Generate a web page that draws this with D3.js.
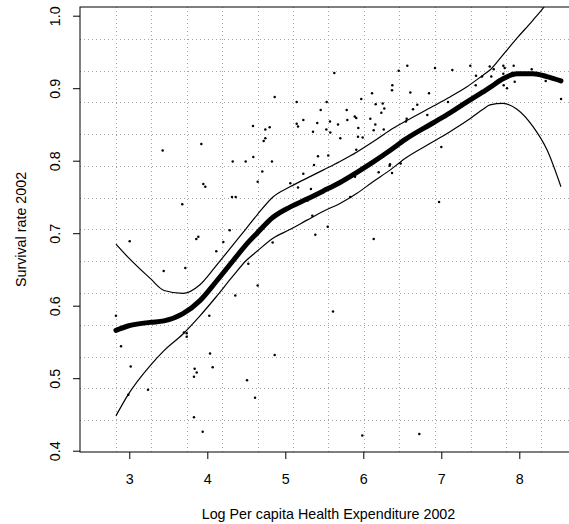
<!DOCTYPE html>
<html>
<head>
<meta charset="utf-8">
<script src="https://cdn.jsdelivr.net/npm/d3@7"></script>
<style>
  body { margin: 0; background: #fff; }
  svg { display: block; font-family: "Liberation Sans", Arial, Helvetica, sans-serif; }
</style>
</head>
<body>
<svg id="chart" width="569" height="524"></svg>
<script>
// Country observations: log per-capita health expenditure vs survival rate (2002)
const logExpenditure = [
  3.428, 3.923, 4.326, 4.492, 4.590, 4.646, 3.949, 3.974, 4.317, 4.364,
  3.679, 4.287, 3.005, 3.885, 3.859, 4.205, 4.115, 3.441, 3.718, 4.249,
  4.359, 2.829, 4.026, 3.701, 3.736, 3.736, 2.894, 4.035, 3.018, 4.069,
  3.838, 3.864, 3.829, 3.240, 2.987, 3.829, 3.941, 4.526, 4.646, 5.612,
  4.864, 4.509, 4.612, 5.987, 6.718, 5.628, 6.454, 6.372, 6.368, 6.112,
  4.864, 5.146, 5.531, 5.974, 6.159, 6.249, 6.269, 6.231, 5.454, 5.787,
  5.890, 5.910, 6.090, 5.795, 5.231, 5.573, 5.410, 5.146, 5.163, 5.676,
  6.154, 4.586, 4.800, 4.744, 5.936, 6.133, 6.262, 5.526, 5.355, 5.577,
  4.744, 4.723, 5.705, 5.932, 5.992, 5.910, 5.419, 5.551, 4.829, 5.368,
  6.342, 6.338, 6.479, 4.705, 5.231, 6.197, 6.368, 5.894, 5.064, 5.163,
  5.329, 5.833, 5.287, 5.346, 5.544, 5.385, 6.133, 4.838, 6.564, 6.919,
  7.141, 7.372, 7.621, 7.672, 7.795, 7.813, 7.928, 8.159, 7.795, 7.906,
  7.445, 7.522, 7.641, 7.800, 7.842, 7.941, 8.338, 7.441, 6.603, 6.842,
  7.086, 6.692, 6.637, 6.821, 6.556, 6.547, 8.535, 7.000, 6.971
];
const survivalRate = [
  0.814, 0.823, 0.799, 0.799, 0.805, 0.771, 0.768, 0.764, 0.750, 0.750,
  0.740, 0.704, 0.689, 0.695, 0.692, 0.688, 0.675, 0.648, 0.652, 0.649,
  0.614, 0.586, 0.586, 0.563, 0.562, 0.557, 0.544, 0.534, 0.516, 0.515,
  0.513, 0.508, 0.502, 0.484, 0.477, 0.446, 0.426, 0.658, 0.628, 0.592,
  0.532, 0.497, 0.473, 0.421, 0.423, 0.921, 0.924, 0.904, 0.897, 0.893,
  0.888, 0.881, 0.881, 0.885, 0.878, 0.879, 0.872, 0.866, 0.870, 0.870,
  0.861, 0.859, 0.858, 0.856, 0.856, 0.854, 0.852, 0.851, 0.847, 0.850,
  0.850, 0.848, 0.846, 0.843, 0.845, 0.842, 0.843, 0.843, 0.840, 0.839,
  0.831, 0.827, 0.831, 0.833, 0.832, 0.815, 0.806, 0.807, 0.799, 0.794,
  0.795, 0.793, 0.796, 0.785, 0.782, 0.784, 0.783, 0.778, 0.769, 0.763,
  0.761, 0.750, 0.745, 0.724, 0.709, 0.698, 0.692, 0.687, 0.931, 0.928,
  0.925, 0.931, 0.930, 0.926, 0.931, 0.928, 0.931, 0.926, 0.920, 0.921,
  0.917, 0.916, 0.916, 0.904, 0.900, 0.909, 0.910, 0.904, 0.894, 0.893,
  0.881, 0.877, 0.871, 0.863, 0.858, 0.854, 0.885, 0.819, 0.743
];

// Smoothed fit with its upper and lower bands, evaluated along the x axis
const curveX = [
  2.829, 2.983, 3.265, 3.445, 3.688, 3.906, 4.112, 4.330, 4.496, 4.637,
  4.842, 5.060, 5.278, 5.483, 5.701, 5.919, 6.124, 6.342, 6.534, 6.893,
  7.111, 7.329, 7.535, 7.624, 7.791, 7.970, 8.176, 8.355, 8.534
];
const fitY = [
  0.566, 0.572, 0.577, 0.579, 0.589, 0.607, 0.633, 0.662, 0.684, 0.700,
  0.722, 0.736, 0.747, 0.758, 0.770, 0.784, 0.798, 0.814, 0.829, 0.852,
  0.866, 0.881, 0.895, 0.901, 0.913, 0.920, 0.920, 0.916, 0.910
];
const upperY = [
  0.685, 0.667, 0.638, 0.621, 0.617, 0.629, 0.655, 0.684, 0.706, 0.725,
  0.750, 0.764, 0.776, 0.787, 0.799, 0.812, 0.826, 0.842, 0.854, 0.875,
  0.888, 0.902, 0.918, 0.925, 0.946, 0.969, 0.994, 1.018, 1.056
];
const lowerY = [
  0.448, 0.477, 0.517, 0.538, 0.561, 0.586, 0.612, 0.641, 0.662, 0.675,
  0.693, 0.705, 0.718, 0.730, 0.741, 0.755, 0.771, 0.787, 0.803, 0.826,
  0.840, 0.855, 0.871, 0.877, 0.879, 0.871, 0.847, 0.815, 0.764
];

const xTicks = [3, 4, 5, 6, 7, 8];
const yTicks = [0.4, 0.5, 0.6, 0.7, 0.8, 0.9, 1.0];
const xTitle = "Log Per capita Health Expenditure 2002";
const yTitle = "Survival rate 2002";
const gridCells = 14;

const svg = d3.select("#chart");
const plot = { left: 80, right: 577, top: 7, bottom: 452 };
const fontSize = "14.3px";

const x = d3.scaleLinear().domain([2.368, 8.7397]).range([plot.left, plot.right]);
const y = d3.scaleLinear().domain([0.3982, 1.0120]).range([plot.bottom, plot.top]);

// Dotted reference grid, equally spaced across the plot region
const gx = d3.range(1, gridCells).map(i => x.domain()[0] + i * (x.domain()[1] - x.domain()[0]) / gridCells);
const gy = d3.range(1, gridCells).map(i => y.domain()[0] + i * (y.domain()[1] - y.domain()[0]) / gridCells);
const grid = svg.append("g").attr("stroke", "#a8a8a8").attr("stroke-width", 1)
  .attr("stroke-dasharray", "1,3").attr("shape-rendering", "crispEdges");
grid.selectAll("line.v").data(gx).join("line").attr("class", "v")
  .attr("x1", d => Math.round(x(d)) + 0.5).attr("x2", d => Math.round(x(d)) + 0.5)
  .attr("y1", plot.top).attr("y2", plot.bottom);
grid.selectAll("line.h").data(gy).join("line").attr("class", "h")
  .attr("y1", d => Math.round(y(d)) + 0.5).attr("y2", d => Math.round(y(d)) + 0.5)
  .attr("x1", plot.left).attr("x2", plot.right);

// Clip marks to the plot region
svg.append("clipPath").attr("id", "plotclip").append("rect")
  .attr("x", plot.left).attr("y", plot.top)
  .attr("width", plot.right - plot.left).attr("height", plot.bottom - plot.top);
const marks = svg.append("g").attr("clip-path", "url(#plotclip)");

// Scatter points
marks.append("g").selectAll("circle").data(logExpenditure).join("circle")
  .attr("cx", (d, i) => x(d)).attr("cy", (d, i) => y(survivalRate[i]))
  .attr("r", 1.25).attr("fill", "#000");

const line = d3.line().curve(d3.curveMonotoneX).x(d => x(d[0])).y(d => y(d[1]));
const pairs = arr => curveX.map((cx, i) => [cx, arr[i]]);

marks.append("path").datum(pairs(upperY)).attr("d", line)
  .attr("fill", "none").attr("stroke", "#000").attr("stroke-width", 1.2);
marks.append("path").datum(pairs(lowerY)).attr("d", line)
  .attr("fill", "none").attr("stroke", "#000").attr("stroke-width", 1.2);
marks.append("path").datum(pairs(fitY)).attr("d", line)
  .attr("fill", "none").attr("stroke", "#000").attr("stroke-width", 5)
  .attr("stroke-linecap", "round").attr("stroke-linejoin", "round");

// Plot frame
svg.append("rect").attr("x", plot.left).attr("y", plot.top)
  .attr("width", plot.right - plot.left).attr("height", plot.bottom - plot.top)
  .attr("fill", "none").attr("stroke", "#000").attr("stroke-width", 1);

// Bottom axis
const xAxis = svg.append("g").attr("transform", `translate(0,${plot.bottom})`)
  .call(d3.axisBottom(x).tickValues(xTicks).tickSize(7).tickPadding(15).tickFormat(d3.format("d")));
xAxis.select(".domain").remove();
xAxis.attr("font-family", null);
xAxis.selectAll("text").attr("font-size", fontSize).attr("fill", "#000");

// Left axis with labels parallel to the axis
const yAxis = svg.append("g").attr("transform", `translate(${plot.left},0)`)
  .call(d3.axisLeft(y).tickValues(yTicks).tickSize(7).tickFormat(d3.format(".1f")));
yAxis.select(".domain").remove();
yAxis.attr("font-family", null);
yAxis.selectAll("text")
  .attr("transform", "rotate(-90)").attr("x", 0).attr("y", -20).attr("dy", 0)
  .attr("text-anchor", "middle").attr("font-size", fontSize).attr("fill", "#000");

// Axis titles
svg.append("text").attr("x", (plot.left + plot.right) / 2).attr("y", 518.5)
  .attr("text-anchor", "middle").attr("font-size", fontSize).text(xTitle);
svg.append("text").attr("transform", `translate(26,${(plot.top + plot.bottom) / 2}) rotate(-90)`)
  .attr("text-anchor", "middle").attr("font-size", fontSize).text(yTitle);
</script>
</body>
</html>
